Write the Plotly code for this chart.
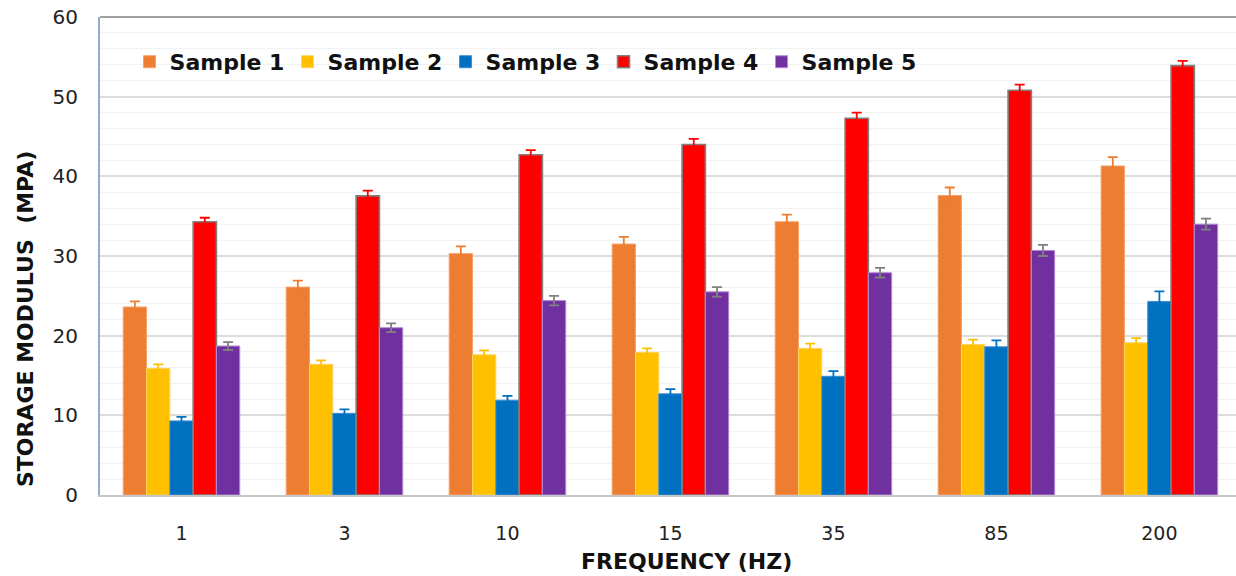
import plotly.graph_objects as go

categories = ["1", "3", "10", "15", "35", "85", "200"]
series_names = ["Sample 1", "Sample 2", "Sample 3", "Sample 4", "Sample 5"]

sample1 = [23.6, 26.1, 30.3, 31.5, 34.3, 37.6, 41.3]
sample2 = [15.9, 16.4, 17.6, 17.9, 18.4, 18.9, 19.1]
sample3 = [9.3, 10.25, 11.9, 12.7, 14.9, 18.6, 24.3]
sample4 = [34.3, 37.55, 42.7, 44.0, 47.3, 50.8, 53.9]
sample5 = [18.7, 21.0, 24.4, 25.5, 27.9, 30.7, 34.0]

err1 = [0.7, 0.8, 0.9, 0.9, 0.9, 1.0, 1.1]
err2 = [0.5, 0.5, 0.55, 0.5, 0.6, 0.6, 0.6]
err3 = [0.5, 0.5, 0.55, 0.6, 0.65, 0.8, 1.25]
err4 = [0.5, 0.65, 0.6, 0.7, 0.7, 0.7, 0.6]
err5 = [0.5, 0.55, 0.6, 0.6, 0.6, 0.7, 0.7]

values = [sample1, sample2, sample3, sample4, sample5]
errors = [err1, err2, err3, err4, err5]
fill_colors = ["#ED7D31", "#FFC000", "#0070C0", "#FF0000", "#7030A0"]
line_colors = ["#F4A26C", "#FFD45C", "#3F8FD0", "#808080", "#B58AD6"]
line_widths = [1, 1, 1, 1.6, 1]
err_colors = ["#ED7D31", "#FFC000", "#0070C0", "#FF0000", "#808080"]

FONT = "DejaVu Sans"

fig = go.Figure()
for name, vals, errs, fc, lc, lw, ec in zip(series_names, values, errors, fill_colors,
                                             line_colors, line_widths, err_colors):
    fig.add_trace(go.Bar(
        name=name, x=categories, y=vals,
        marker=dict(color=fc, line=dict(color=lc, width=lw)),
        error_y=dict(type="data", array=errs, visible=True, color=ec,
                     thickness=1.8, width=5),
    ))

fig.update_layout(
    width=1236, height=576,
    margin=dict(l=100, r=0, t=17, b=81),
    paper_bgcolor="white", plot_bgcolor="white",
    barmode="group", bargap=0.285, bargroupgap=0,
    font=dict(family=FONT, color="#222222"),
    showlegend=True,
    legend=dict(
        orientation="h", x=0.026, y=0.906, xanchor="left", yanchor="middle",
        font=dict(family=FONT, size=22, color="#111111", weight="bold"),
        bgcolor="rgba(0,0,0,0)", entrywidth=113, entrywidthmode="pixels",
        itemwidth=30, tracegroupgap=0,
    ),
    xaxis=dict(
        type="category", range=[-0.5, 6.47],
        showgrid=False, showline=True, linecolor="#C6C6C6", linewidth=2,
        ticks="", tickfont=dict(family=FONT, size=19, color="#222222"),
        ticklabelstandoff=20, mirror=False,
    ),
    yaxis=dict(
        range=[0, 60], dtick=10, showgrid=True, gridcolor="#DCDCDC", gridwidth=1.5,
        minor=dict(dtick=2, showgrid=True, gridcolor="#F2F2F2", gridwidth=1),
        showline=True, linecolor="#8DB0D2", linewidth=2,
        ticks="", tickfont=dict(family=FONT, size=20, color="#222222"),
        ticklabelstandoff=16, zeroline=False,
    ),
    shapes=[dict(type="line", xref="paper", yref="paper", x0=0, x1=1, y0=1, y1=1,
                 line=dict(color="#A0A0A0", width=2))],
    annotations=[
        dict(text="<b>FREQUENCY (HZ)</b>", xref="paper", yref="paper",
             x=0.516, y=-0.14, xanchor="center", yanchor="middle", showarrow=False,
             font=dict(family=FONT, size=22, color="#111111")),
        dict(text="<b>STORAGE MODULUS \u00a0(MPA)</b>", xref="paper", yref="paper",
             x=-0.066, y=0.368, xanchor="center", yanchor="middle", showarrow=False,
             textangle=-90, font=dict(family=FONT, size=22, color="#111111")),
    ],
)

fig.write_html("out.html", config={"displayModeBar": False},
               post_script="document.body.style.margin='0';document.body.style.overflow='hidden';")
